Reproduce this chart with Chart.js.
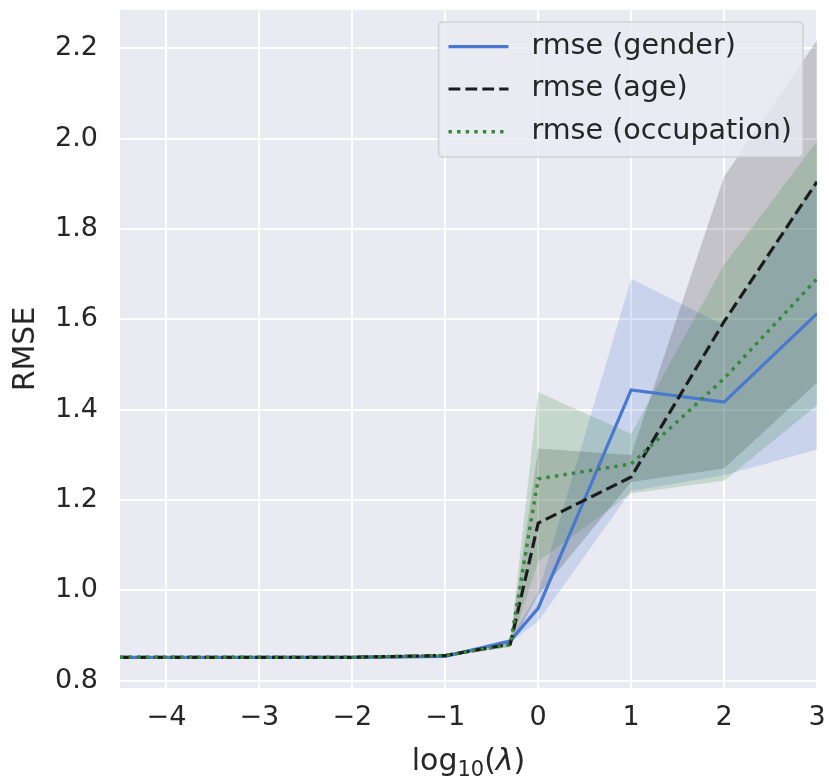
<!DOCTYPE html>
<html>
<head>
<meta charset="utf-8">
<script src="https://cdn.jsdelivr.net/npm/chart.js@4"></script>
<style>
  html, body { margin: 0; padding: 0; background: #ffffff; }
  #wrap { width: 829px; height: 783px; }
</style>
</head>
<body>
<div id="wrap"><canvas id="c" width="829" height="783"></canvas></div>
<script>
// ---- data ----
const logLambda = [-4.5, -4, -3, -2, -1, -0.301, 0, 1, 2, 3];

const genderMean = [0.852, 0.852, 0.852, 0.852, 0.854, 0.888, 0.961, 1.444, 1.417, 1.613];
const genderLow  = [0.849, 0.849, 0.849, 0.849, 0.851, 0.884, 0.932, 1.220, 1.255, 1.312];
const genderHigh = [0.855, 0.855, 0.855, 0.855, 0.857, 0.893, 0.995, 1.690, 1.587, 1.910];

const ageMean = [0.852, 0.852, 0.852, 0.852, 0.856, 0.881, 1.149, 1.251, 1.595, 1.905];
const ageLow  = [0.849, 0.849, 0.849, 0.849, 0.853, 0.876, 0.990, 1.240, 1.270, 1.460];
const ageHigh = [0.855, 0.855, 0.855, 0.855, 0.859, 0.887, 1.314, 1.300, 1.916, 2.218];

const occMean = [0.852, 0.852, 0.852, 0.852, 0.856, 0.880, 1.247, 1.280, 1.469, 1.690];
const occLow  = [0.849, 0.849, 0.849, 0.849, 0.853, 0.875, 1.064, 1.215, 1.243, 1.410];
const occHigh = [0.855, 0.855, 0.855, 0.855, 0.859, 0.886, 1.439, 1.347, 1.721, 1.995];

const seriesLabels = ['rmse (gender)', 'rmse (age)', 'rmse (occupation)'];
const xTicks = [-4, -3, -2, -1, 0, 1, 2, 3];
const yTicks = [0.8, 1.0, 1.2, 1.4, 1.6, 1.8, 2.0, 2.2];
const xAxisTitle = { base: 'log', sub: '10', open: '(', sym: 'λ', close: ')' };
const yAxisTitle = 'RMSE';

// ---- styling ----
const BLUE = '#4878d0';
const BLACK = '#1c1c1c';
const GREEN = '#34883c';
const FONT = "'DejaVu Sans', sans-serif";
const TEXT = '#262626';

const pts = (ys) => ys.map((y, i) => ({ x: logLambda[i], y: y }));
const LW = 3.2;

const datasets = [
  { label: seriesLabels[0], data: pts(genderMean), borderColor: BLUE, borderWidth: LW,
    borderDash: [], pointRadius: 0, fill: false, order: 2, tension: 0 },
  { label: seriesLabels[1], data: pts(ageMean), borderColor: BLACK, borderWidth: LW,
    borderDash: [11.8, 5.1], pointRadius: 0, fill: false, order: 1, tension: 0 },
  { label: seriesLabels[2], data: pts(occMean), borderColor: GREEN, borderWidth: 3.4,
    borderDash: [3.4, 5.2], pointRadius: 0, fill: false, order: 0, tension: 0 },
  // bands
  { label: 'gH', data: pts(genderHigh), borderColor: 'rgba(0,0,0,0)', borderWidth: 1, pointRadius: 0,
    fill: { target: 4 }, backgroundColor: 'rgba(72,120,208,0.2)', order: 12, tension: 0 },
  { label: 'gL', data: pts(genderLow), borderColor: 'rgba(0,0,0,0)', borderWidth: 1, pointRadius: 0,
    fill: false, order: 12, tension: 0 },
  { label: 'aH', data: pts(ageHigh), borderColor: 'rgba(0,0,0,0)', borderWidth: 1, pointRadius: 0,
    fill: { target: 6 }, backgroundColor: 'rgba(28,28,28,0.19)', order: 11, tension: 0 },
  { label: 'aL', data: pts(ageLow), borderColor: 'rgba(0,0,0,0)', borderWidth: 1, pointRadius: 0,
    fill: false, order: 11, tension: 0 },
  { label: 'oH', data: pts(occHigh), borderColor: 'rgba(0,0,0,0)', borderWidth: 1, pointRadius: 0,
    fill: { target: 8 }, backgroundColor: 'rgba(52,136,60,0.2)', order: 10, tension: 0 },
  { label: 'oL', data: pts(occLow), borderColor: 'rgba(0,0,0,0)', borderWidth: 1, pointRadius: 0,
    fill: false, order: 10, tension: 0 }
];

// plot background
const bgPlugin = {
  id: 'bg',
  beforeDraw(chart) {
    const { ctx, chartArea: a } = chart;
    ctx.save();
    ctx.fillStyle = '#eaeaf2';
    ctx.fillRect(a.left, a.top, a.right - a.left, a.bottom - a.top);
    ctx.restore();
  }
};

// axis titles
const titlePlugin = {
  id: 'titles',
  afterDraw(chart) {
    const { ctx, chartArea: a } = chart;
    ctx.save();
    ctx.fillStyle = TEXT;
    ctx.font = '30px ' + FONT;
    ctx.textAlign = 'center';
    ctx.textBaseline = 'middle';
    ctx.translate(26, (a.top + a.bottom) / 2);
    ctx.rotate(-Math.PI / 2);
    ctx.fillText(yAxisTitle, 0, 0);
    ctx.restore();

    ctx.save();
    ctx.fillStyle = TEXT;
    ctx.textBaseline = 'alphabetic';
    ctx.textAlign = 'left';
    const big = '30px ' + FONT, small = '21px ' + FONT, ital = 'italic 30px ' + FONT;
    const parts = [
      { t: xAxisTitle.base, f: big, dy: 0 },
      { t: xAxisTitle.sub, f: small, dy: 6 },
      { t: xAxisTitle.open, f: big, dy: 0 },
      { t: xAxisTitle.sym, f: ital, dy: 0 },
      { t: xAxisTitle.close, f: big, dy: 0 }
    ];
    let total = 0;
    parts.forEach(p => { ctx.font = p.f; p.w = ctx.measureText(p.t).width; total += p.w; });
    let x = (a.left + a.right) / 2 - total / 2;
    const baseY = 770;
    parts.forEach(p => { ctx.font = p.f; ctx.fillText(p.t, x, baseY + p.dy); x += p.w; });
    ctx.restore();
  }
};

// legend
const legendPlugin = {
  id: 'customLegend',
  afterDraw(chart) {
    const { ctx, chartArea: a } = chart;
    const items = chart.data.datasets.slice(0, 3);
    ctx.save();
    ctx.font = '28.6px ' + FONT;
    let maxW = 0;
    items.forEach(d => { maxW = Math.max(maxW, ctx.measureText(d.label).width); });
    const padL = 10, sample = 60, gap = 23, padR = 11;
    const w = padL + sample + gap + maxW + padR;
    const h = 135;
    const right = a.right - 14;
    const left = right - w;
    const top = a.top + 12;
    const r = 5;
    ctx.beginPath();
    ctx.moveTo(left + r, top);
    ctx.lineTo(left + w - r, top);
    ctx.quadraticCurveTo(left + w, top, left + w, top + r);
    ctx.lineTo(left + w, top + h - r);
    ctx.quadraticCurveTo(left + w, top + h, left + w - r, top + h);
    ctx.lineTo(left + r, top + h);
    ctx.quadraticCurveTo(left, top + h, left, top + h - r);
    ctx.lineTo(left, top + r);
    ctx.quadraticCurveTo(left, top, left + r, top);
    ctx.closePath();
    ctx.fillStyle = 'rgba(234,234,242,0.8)';
    ctx.fill();
    ctx.strokeStyle = 'rgba(204,204,204,0.8)';
    ctx.lineWidth = 1.6;
    ctx.stroke();

    const rowY = [24.7, 67, 109.7];
    items.forEach((d, i) => {
      const y = top + rowY[i];
      ctx.beginPath();
      ctx.setLineDash(d.borderDash || []);
      ctx.lineWidth = d.borderWidth;
      ctx.strokeStyle = d.borderColor;
      ctx.lineCap = 'butt';
      ctx.moveTo(left + padL, y);
      ctx.lineTo(left + padL + sample, y);
      ctx.stroke();
      ctx.setLineDash([]);
      ctx.fillStyle = TEXT;
      ctx.textBaseline = 'middle';
      ctx.textAlign = 'left';
      ctx.fillText(d.label, left + padL + sample + gap, y);
    });
    ctx.restore();
  }
};

function zeroPad(s) {
  s.paddingTop = 0; s.paddingBottom = 0; s.paddingLeft = 0; s.paddingRight = 0;
}

new Chart(document.getElementById('c'), {
  type: 'line',
  data: { datasets },
  plugins: [bgPlugin, titlePlugin, legendPlugin],
  options: {
    responsive: false,
    devicePixelRatio: 1,
    animation: false,
    layout: { padding: { left: 0, right: 12, top: 10, bottom: 0 } },
    plugins: {
      legend: { display: false },
      tooltip: { enabled: false },
      filler: { drawTime: 'beforeDatasetsDraw', propagate: false }
    },
    scales: {
      x: {
        type: 'linear',
        min: -4.5, max: 3,
        afterBuildTicks(s) { s.ticks = xTicks.map(v => ({ value: v })); },
        afterFit(s) { s.height = 95; zeroPad(s); },
        grid: { color: '#ffffff', lineWidth: 2, drawTicks: false },
        border: { display: false },
        ticks: {
          padding: 14,
          color: TEXT,
          font: { family: FONT, size: 27 },
          callback: (v) => (v < 0 ? '\u2212' + Math.abs(v) : String(v))
        }
      },
      y: {
        type: 'linear',
        min: 0.784, max: 2.285,
        afterBuildTicks(s) { s.ticks = yTicks.map(v => ({ value: v })); },
        afterFit(s) { s.width = 120; zeroPad(s); },
        grid: { color: '#ffffff', lineWidth: 2, drawTicks: false },
        border: { display: false },
        ticks: {
          padding: 22,
          color: TEXT,
          font: { family: FONT, size: 27 },
          callback: (v) => v.toFixed(1)
        }
      }
    }
  }
});
</script>
</body>
</html>
